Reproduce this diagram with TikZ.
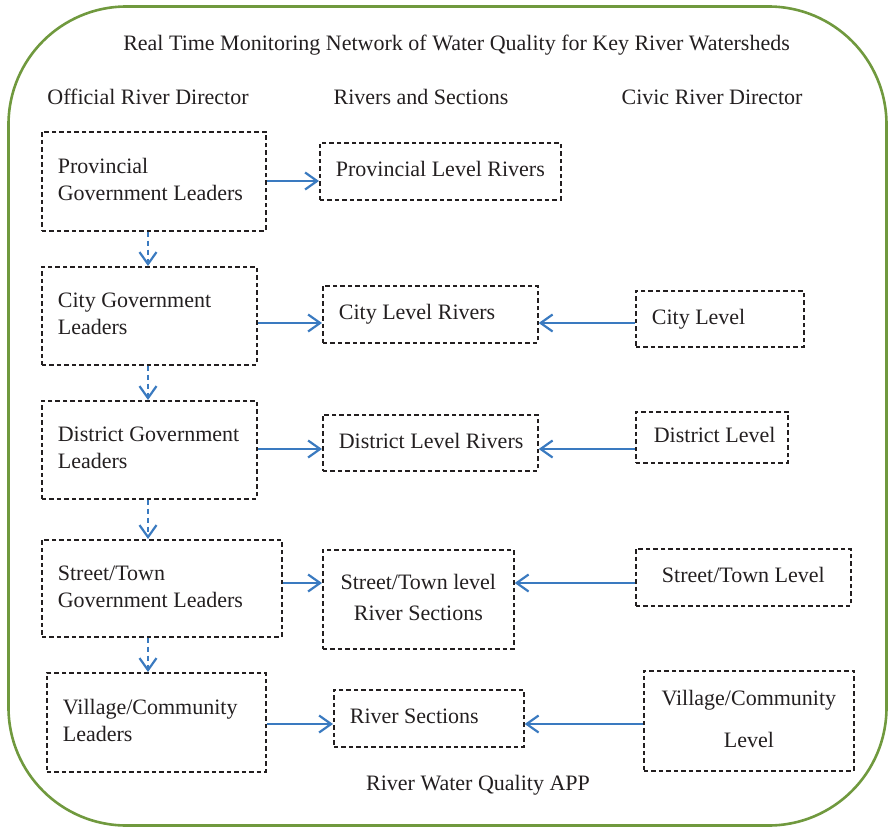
\documentclass[tikz,border=0pt]{standalone}
\usepackage{fontspec}
\setmainfont{Liberation Serif}
\usetikzlibrary{arrows.meta}
\definecolor{framegreen}{RGB}{112,153,62}
\definecolor{flowblue}{RGB}{58,122,192}
\definecolor{inkgray}{RGB}{35,31,32}
% left-aligned text block of fixed width; centred text block
\newcommand\ltext[2]{\makebox[#1][l]{\begin{tabular}{@{}l@{}}#2\end{tabular}}}
\newcommand\ctext[1]{\begin{tabular}{@{}c@{}}#1\end{tabular}}
\begin{document}
\begin{tikzpicture}[x=1pt,y=-1pt,
  every node/.style={font=\fontsize{22}{27}\selectfont, text=inkgray},
  box/.style={draw=inkgray, line width=1.7pt, dash pattern=on 4.5pt off 3pt,
    anchor=north west, inner xsep=16pt, inner ysep=0pt},
  cbox/.style={inner xsep=0pt},
  flow/.style={draw=flowblue, line width=2.2pt,
    -{Straight Barb[length=12pt,width=17pt,line width=2.2pt]}},
  chain/.style={flow, dash pattern=on 5pt off 4pt},
  heading/.style={anchor=base}]
\useasboundingbox (0,0) rectangle (888,827);

% outer frame
\draw[framegreen, line width=2.6pt, rounded corners=118pt] (8.5,6.5) rectangle (886.5,825.5);

% titles and column headings
\node[heading] (title) at (456.5,50) {Real Time Monitoring Network of Water Quality for Key River Watersheds};
\node[heading] (hOfficial) at (148,104) {Official River Director};
\node[heading] (hRivers) at (421,104) {Rivers and Sections};
\node[heading] (hCivic) at (712,104) {Civic River Director};
\node[heading] (app) at (478,790) {River Water Quality APP};

% official river directors
\node[box, minimum height=99pt] (pg) at (41,131) {\ltext{192pt}{Provincial\\Government Leaders}};
\node[box, minimum height=98pt] (cg) at (41,266) {\ltext{183pt}{City Government\\Leaders}};
\node[box, minimum height=98pt] (dg) at (41,400) {\ltext{183pt}{District Government\\Leaders}};
\node[box, minimum height=97pt] (sg) at (41,539) {\ltext{208pt}{Street/Town\\Government Leaders}};
\node[box, minimum height=99pt] (vg) at (46,672) {\ltext{187pt}{Village/Community\\Leaders}};

% rivers and sections
\node[box, minimum height=57pt] (plr) at (319,142) {\ltext{209pt}{Provincial Level Rivers}};
\node[box, minimum height=57pt] (clr) at (322,285) {\ltext{183pt}{City Level Rivers}};
\node[box, minimum height=56pt] (dlr) at (322,414) {\ltext{183pt}{District Level Rivers}};
\node[box, cbox, minimum width=191pt, minimum height=99pt] (slr) at (322,549) {\ctext{Street/Town level\\[4pt]River Sections}};
\node[box, minimum height=57pt] (rs) at (333,689) {\ltext{158pt}{River Sections}};

% civic river directors
\node[box, minimum height=56pt] (cl) at (635,290) {\ltext{136pt}{City Level}};
\node[box, inner xsep=18pt, minimum height=51pt] (dl) at (635,411) {\ltext{116pt}{District Level}};
\node[box, cbox, minimum width=215pt, minimum height=57pt] (sl) at (635,548) {\ctext{Street/Town Level}};
\node[box, cbox, minimum width=210pt, minimum height=100pt] (vl) at (643,670) {\ctext{Village/Community\\[15pt]Level}};

% official directors to rivers
\draw[flow] (pg.east |- 0,181) -- (plr.west |- 0,181);
\draw[flow] (cg.east |- 0,323) -- (clr.west |- 0,323);
\draw[flow] (dg.east |- 0,449) -- (dlr.west |- 0,449);
\draw[flow] (sg.east |- 0,583) -- (slr.west |- 0,583);
\draw[flow] (vg.east |- 0,724) -- (rs.west |- 0,724);

% civic directors to rivers
\draw[flow] (cl.west |- 0,323) -- (clr.east |- 0,323);
\draw[flow] (dl.west |- 0,449) -- (dlr.east |- 0,449);
\draw[flow] (sl.west |- 0,583) -- (slr.east |- 0,583);
\draw[flow] (vl.west |- 0,724) -- (rs.east |- 0,724);

% chain of official levels
\draw[chain] (pg.south -| 148,0) -- (cg.north -| 148,0);
\draw[chain] (cg.south -| 148,0) -- (dg.north -| 148,0);
\draw[chain] (dg.south -| 148,0) -- (sg.north -| 148,0);
\draw[chain] (sg.south -| 148,0) -- (vg.north -| 148,0);
\end{tikzpicture}
\end{document}
